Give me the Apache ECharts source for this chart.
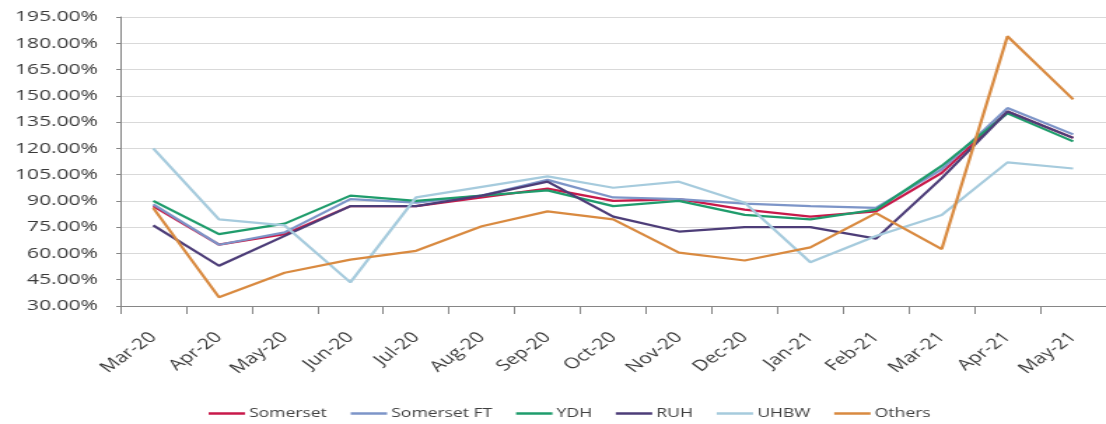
<!DOCTYPE html>
<html>
<head>
<meta charset="utf-8">
<script src="https://cdn.jsdelivr.net/npm/echarts@6/dist/echarts.min.js"></script>
<style>
html,body{margin:0;padding:0;background:#fff;overflow:hidden;width:1106px;height:424px;}
#wrap{width:790px;height:424px;transform:scaleX(1.4);transform-origin:0 0;}
</style>
</head>
<body>
<div id="wrap"></div>
<script>
const categories = ['Mar-20','Apr-20','May-20','Jun-20','Jul-20','Aug-20','Sep-20','Oct-20','Nov-20','Dec-20','Jan-21','Feb-21','Mar-21','Apr-21','May-21'];
const yTicks = {min: 30, max: 195, interval: 15};

const somerset   = [87, 65, 71, 87, 87, 92, 97, 90, 91, 85, 81, 84, 106, 141, 126];
const somersetFT = [88, 65, 72, 91, 89, 93, 102, 92, 91, 88.5, 87, 86, 108, 143, 128];
const ydh        = [90, 71, 77, 93, 90, 93, 96, 87, 90, 82, 79.5, 85, 110, 140, 124];
const ruh        = [76, 53, 70, 87, 87, 93, 101, 81, 72.5, 75, 75, 68.5, 103, 141, 126];
const uhbw       = [120, 79.5, 76, 43.5, 92, 98, 104, 97.5, 101, 89, 55, 70, 82, 112, 108.5];
const others     = [86, 35, 49, 56.5, 61.5, 75.5, 84, 79.5, 60.5, 56, 63.5, 83, 62.5, 184, 148];

const seriesDefs = [
  {name: 'Somerset', data: somerset, color: '#c8194a'},
  {name: 'Somerset FT', data: somersetFT, color: '#7d95c8'},
  {name: 'YDH', data: ydh, color: '#1f9c6c'},
  {name: 'RUH', data: ruh, color: '#4d3d78'},
  {name: 'UHBW', data: uhbw, color: '#a6cbdd'},
  {name: 'Others', data: others, color: '#d98a40'}
];

const FONT = '"Open Sans", "Liberation Sans", sans-serif';
const chart = echarts.init(document.getElementById('wrap'), null, {renderer: 'canvas'});
chart.setOption({
  animation: false,
  backgroundColor: '#ffffff',
  grid: {left: 86, top: 17, width: 713.6, height: 289, containLabel: false},
  legend: {
    left: 144, top: 402,
    icon: 'rect', itemWidth: 26, itemHeight: 2.5, itemGap: 17,
    textStyle: {fontFamily: FONT, fontSize: 12.5, color: '#404040', padding: [0, 0, 0, -2]},
    data: seriesDefs.map(s => s.name)
  },
  xAxis: {
    type: 'category',
    data: categories,
    boundaryGap: true,
    axisLine: {show: true, lineStyle: {color: '#868686', width: 1}},
    axisTick: {show: true, length: 8, lineStyle: {color: '#868686'}},
    axisLabel: {rotate: 45, margin: 29, fontFamily: FONT, fontSize: 15, color: '#3a3a3a', interval: 0}
  },
  yAxis: {
    type: 'value',
    min: yTicks.min, max: yTicks.max, interval: yTicks.interval,
    axisLine: {show: true, lineStyle: {color: '#868686', width: 1}},
    axisTick: {show: true, length: 3, lineStyle: {color: '#868686'}},
    splitLine: {show: true, lineStyle: {color: '#d9d9d9', width: 1.2}},
    axisLabel: {margin: 16, fontFamily: FONT, fontSize: 15, color: '#3a3a3a',
      formatter: v => v.toFixed(2) + '%'}
  },
  series: seriesDefs.map(s => ({
    name: s.name, type: 'line', data: s.data,
    symbol: 'none', smooth: false,
    itemStyle: {color: s.color},
    lineStyle: {color: s.color, width: 2.2}
  }))
});
</script>
</body>
</html>
